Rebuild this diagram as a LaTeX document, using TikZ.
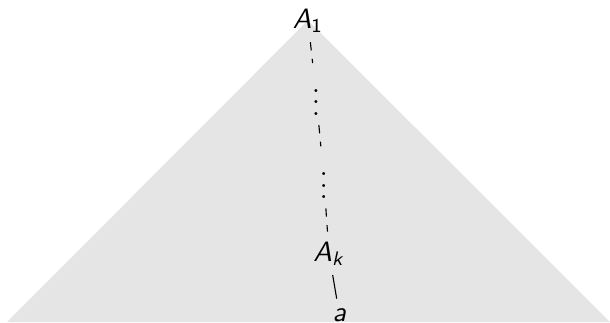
\documentclass[tikz,border=0pt]{standalone}
\usepackage{xcolor}
\usepackage{tikz}
\usetikzlibrary{backgrounds}
\newcommand{\mvar}[1]{\textsf{\textsl{#1}}}

\begin{document}
\begin{tikzpicture}[
  x=0.3571pt,y=0.3571pt,
  lab/.style={anchor=base},
  e/.style={dashed},
  roof/.style={fill=gray!20}
]
  \useasboundingbox (0,0) rectangle (610,322);
  \node[lab] (top) at (308,294) {\mvar{A}\textsubscript{\textsf{1}}};
  \node (dots1) at (316,228) {$\vdots$};
  \node (dots2) at (323.7,144.7) {$\vdots$};
  \node[lab] (ak) at (329,61) {\mvar{A}\textsubscript{\mvar{k}}};
  \node[lab] (leaf) at (339.5,0.5) {\mvar{a}};
  \begin{scope}[on background layer]
    \clip (0,0) rectangle (610,322);
    \path[roof] (top.center) -- (7,0) -- (610,0) -- cycle;
  \end{scope}
  \foreach \x/\y in {top/dots1,dots1/dots2,dots2/ak}
    {\draw[e] (\x) -- (\y);}
  \draw (ak) -- (leaf);
\end{tikzpicture}
\end{document}
